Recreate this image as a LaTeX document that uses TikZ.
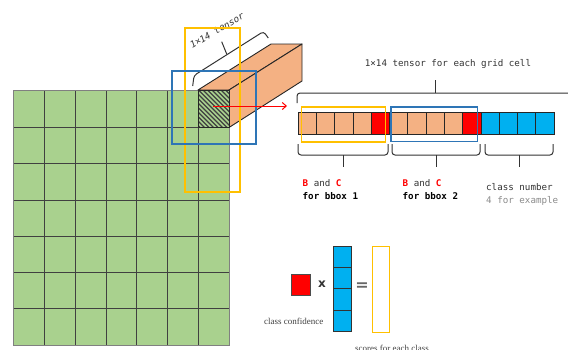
\documentclass[tikz,border=0pt]{standalone}
\usepackage{fontspec}
\setmainfont{Liberation Serif}
\setmonofont{DejaVu Sans Mono}
\newfontfamily\opsans{DejaVu Sans}
\usetikzlibrary{arrows.meta}
\definecolor{gridgreen}{HTML}{A9D18E}
\definecolor{boxorange}{HTML}{F4B183}
\definecolor{clsblue}{HTML}{00B0F0}
\definecolor{hlyellow}{HTML}{FFC000}
\definecolor{hlblue}{HTML}{2E75B6}
\definecolor{confred}{HTML}{FF0000}
\definecolor{inkgrey}{HTML}{333333}
\definecolor{softgrey}{HTML}{8A8A8A}
\begin{document}
\begin{tikzpicture}[x=1pt,y=-1pt,
  gridline/.style={draw=black!75, line width=0.8pt},
  faceedge/.style={draw=black!85, line width=0.9pt, line join=round},
  hlyel/.style={draw=hlyellow, line width=1.5pt},
  hlblu/.style={draw=hlblue, line width=1.5pt},
  cell/.style={draw=black!85, line width=0.8pt, inner sep=0pt, outer sep=0pt,
    minimum width=18.26pt, minimum height=21.5pt, anchor=north west},
  bracket/.style={draw=black!80, line width=1pt, rounded corners=3pt},
  monotext/.style={font=\ttfamily\fontsize{9.2}{11}\selectfont, inner sep=0pt, text=inkgrey},
  boldmono/.style={font=\ttfamily\bfseries\fontsize{9.2}{11}\selectfont, inner sep=0pt, text=black},
  captext/.style={font=\fontsize{9}{10}\selectfont, inner sep=0pt, text=black!75}]
\useasboundingbox (0,0) rectangle (568,349);

% 7x7 feature grid
\fill[gridgreen] (13,90) rectangle (229,345);
\foreach \x in {44,75,106,136.5,167.5,198}
  \draw[gridline] (\x,90) -- (\x,345);
\foreach \y in {127.5,163.7,200,236,272,308.5}
  \draw[gridline] (13,\y) -- (229,\y);
\draw[black!50, line width=0.9pt] (13,90) rectangle (229,345);

% cuboid standing on the top-right cell
\filldraw[faceedge, fill=boxorange] (198,90) -- (271,44) -- (302,44) -- (229,90) -- cycle;
\filldraw[faceedge, fill=boxorange] (229,90) -- (302,44) -- (302,81) -- (229,127.5) -- cycle;
\fill[gridgreen] (198,90) rectangle (229,127.5);
\begin{scope}
  \clip (198,90) rectangle (229,127.5);
  \foreach \s in {-40,-35.5,...,35}
    \draw[black!75, line width=1.1pt] ({198+\s},90) -- ({198+\s+38},128);
\end{scope}
\draw[faceedge] (198,90) rectangle (229,127.5);

% tilted brace and label along the cuboid
\draw[bracket] (192.7,86) -- (194,75.5) -- (263.5,31.5) -- (268.3,38);
\draw[bracket] (226.7,54) -- (221.7,41.7);
\node[monotext, font=\ttfamily\itshape\fontsize{9.2}{11}\selectfont, rotate=30] (tensorlbl) at (217,30.5) {1×14 tensor};

% highlight frames around the cell
\draw[hlyel] (185,28) rectangle (240,192);
\draw[hlblu] (172,71) rectangle (256,144);

% arrow to the unrolled vector
\coordinate (arrowstart) at (213,106);
\coordinate (arrowend) at (287,106);
\draw[confred, line width=1pt, -{Straight Barb[length=4pt,width=7pt]}] (arrowstart) -- (arrowend);

% unrolled 1x14 vector
\foreach \i/\c in {0/boxorange,1/boxorange,2/boxorange,3/boxorange,4/confred,
                   5/boxorange,6/boxorange,7/boxorange,8/boxorange,9/confred,
                   10/clsblue,11/clsblue,12/clsblue,13/clsblue}
  \node[cell, fill=\c] (s\i) at ({298.3+\i*18.26},112.5) {};
\draw[hlyel] (301.7,107) rectangle (385.7,142);
\draw[hlblu] (391,107) rectangle (477.3,141.5);

% brace over the whole vector
\draw[bracket] (297,103) -- (297,93) -- (574,93) -- (574,103);
\draw[bracket] (435.7,93) -- (435.7,80);
\node[monotext, anchor=base] (title) at (448,66) {1×14 tensor for each grid cell};

% braces under the groups
\draw[bracket] (298,144) -- (298,155) -- (388,155) -- (388,144);
\draw[bracket] (343,155) -- (343,167);
\draw[bracket] (392,144) -- (392,155) -- (480,155) -- (480,144);
\draw[bracket] (436,155) -- (436,167);
\draw[bracket] (485,144) -- (485,155) -- (553,155) -- (553,144);
\draw[bracket] (519,155) -- (519,167);

\node[monotext, anchor=base west] (bc1) at (302.5,186.7)
  {\textcolor{confred}{\bfseries B} and \textcolor{confred}{\bfseries C}};
\node[boldmono, anchor=base west] (bb1) at (302.5,199.5) {for bbox 1};
\node[monotext, anchor=base west] (bc2) at (402.5,186.7)
  {\textcolor{confred}{\bfseries B} and \textcolor{confred}{\bfseries C}};
\node[boldmono, anchor=base west] (bb2) at (402.5,199.5) {for bbox 2};
\node[monotext, anchor=base west] (cn) at (486,190) {class number};
\node[monotext, anchor=base west, text=softgrey] (ex) at (486,203.5) {4 for example};

% class-specific score formula
\node[draw=black!70, line width=0.8pt, fill=confred, inner sep=0pt,
  minimum width=18.3pt, minimum height=21.7pt] (conf) at (301,285) {};
\node[font=\opsans\bfseries\fontsize{12}{12}\selectfont, text=inkgrey, inner sep=0pt] (times) at (322,284) {x};
\foreach \k in {0,1,2,3}
  \node[draw=black!80, line width=0.8pt, fill=clsblue, inner sep=0pt, outer sep=0pt,
    minimum width=18pt, minimum height=21.4pt, anchor=north west] (q\k) at (333,{246+\k*21.4}) {};
\node[font=\opsans\bfseries\fontsize{16}{16}\selectfont, text=black!60, inner sep=0pt] (eq) at (362,287) {=};
\node[draw=hlyellow, line width=1.3pt, inner sep=0pt,
  minimum width=17pt, minimum height=86pt, anchor=north west] (scores) at (372,246) {};
\node[captext, anchor=base] (conflbl) at (293.7,324) {class confidence};
\node[captext, anchor=base] (scorelbl) at (392,351.5) {scores for each class};
\end{tikzpicture}
\end{document}
